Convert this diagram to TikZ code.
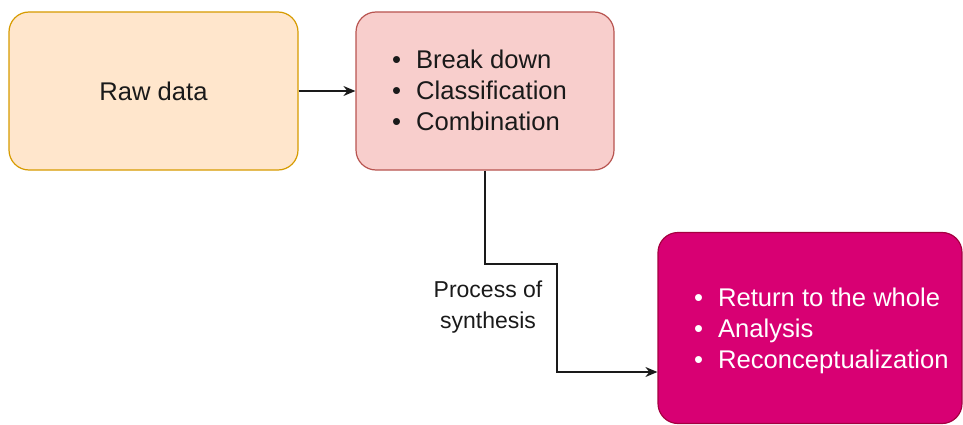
\documentclass[tikz,border=0pt]{standalone}
\usepackage{fontspec}
\setmainfont{Liberation Sans}
\usetikzlibrary{arrows.meta}
\definecolor{orfill}{HTML}{FFE6CC}
\definecolor{orline}{HTML}{D79B00}
\definecolor{rdfill}{HTML}{F8CECC}
\definecolor{rdline}{HTML}{B85450}
\definecolor{mgfill}{HTML}{D80073}
\definecolor{mgline}{HTML}{A50040}
\definecolor{ink}{HTML}{1A1A1A}
\begin{document}
\begin{tikzpicture}[x=1pt,y=-1pt,
  box/.style={rounded corners=20pt, line width=1.2pt, inner sep=0pt},
  txt/.style={font=\fontsize{25.6}{31}\selectfont, text=ink, align=left, inner sep=0pt},
  lbl/.style={font=\fontsize{23}{31}\selectfont, text=ink, align=center, inner sep=0pt},
  conn/.style={line width=1.3pt, draw=ink, -{Stealth[length=12pt,width=10pt]}}]
\useasboundingbox (0,0) rectangle (963,425);
\clip (0,0) rectangle (963,425);
\node[box, draw=orline, fill=orfill, minimum width=289pt, minimum height=158pt, txt] (raw) at (153.5,91) {Raw data};
\node[box, draw=rdline, fill=rdfill, minimum width=258pt, minimum height=158pt] (proc) at (485,91) {};
\node[txt, anchor=west] (proctxt) at (392,93) {\begin{tabular}{@{}l@{\hspace{15pt}}l@{}}• & Break down\\ • & Classification\\ • & Combination\end{tabular}};
\node[box, draw=mgline, fill=mgfill, minimum width=304pt, minimum height=191pt] (res) at (810,328) {};
\node[txt, text=white, anchor=west] (restxt) at (694,331) {\begin{tabular}{@{}l@{\hspace{15pt}}l@{}}• & Return to the whole\\ • & Analysis\\ • & Reconceptualization\end{tabular}};
\coordinate (k1) at (485,264);
\coordinate (k2) at (557,264);
\coordinate (k3) at (557,372);
\draw[conn] (raw.east) -- (proc.west);
\draw[conn] (proc.south) -- (k1) -- (k2) -- (k3) -- (k3 -| res.west);
\node[lbl] (synth) at (488,307) {Process of\\synthesis};
\end{tikzpicture}
\end{document}
